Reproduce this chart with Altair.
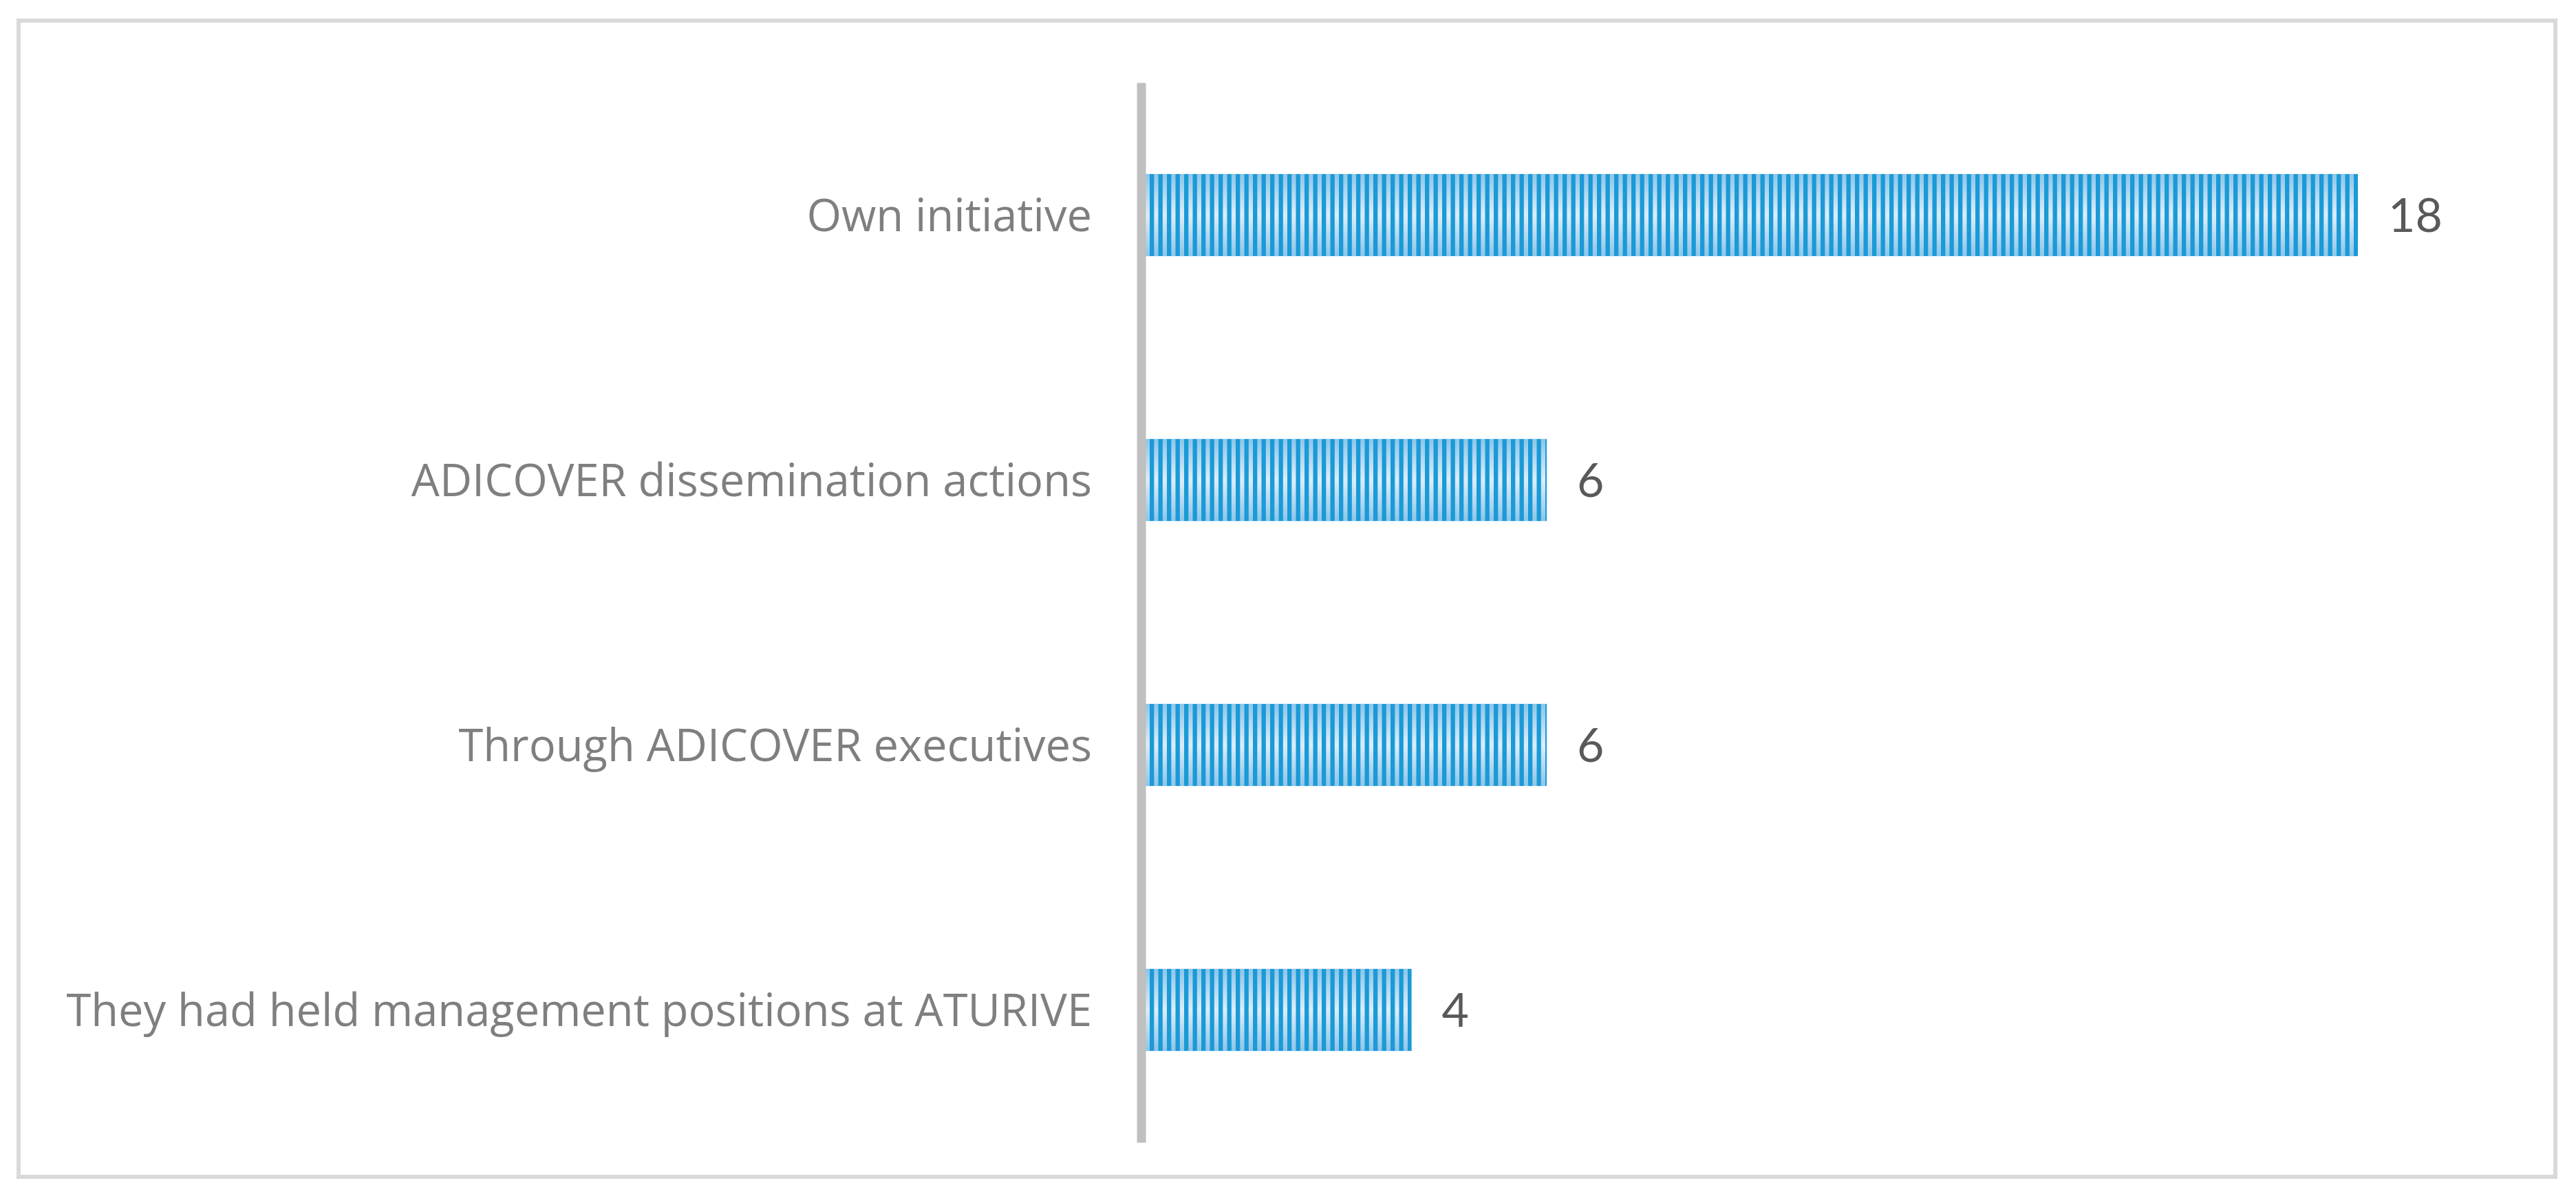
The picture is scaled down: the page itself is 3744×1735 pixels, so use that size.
import altair as alt
import pandas as pd

categories = [
    "Own initiative",
    "ADICOVER dissemination actions",
    "Through ADICOVER executives",
    "They had held management positions at ATURIVE",
]
values = [18, 6, 6, 4]

df = pd.DataFrame({"category": categories, "value": values})

x_scale = alt.Scale(domain=[0, 20], range=[1631.5, 3596.5], nice=False, zero=True)
y_scale = alt.Scale(domain=categories, range=[90, 1630], paddingInner=0.69, paddingOuter=0.345)

base = alt.Chart(df)

y_enc = alt.Y(
    "category:N",
    sort=categories,
    scale=y_scale,
    axis=alt.Axis(
        title=None,
        offset=-1631.5,
        domainColor="#bfbfbf",
        domainWidth=13,
        ticks=False,
        tickSize=0,
        grid=False,
        labelFont="Open Sans",
        labelFontSize=65,
        labelColor="#7f7f7f",
        labelPadding=72,
        labelOffset=3,
        labelLimit=3000,
        zindex=1,
    ),
)

under = base.mark_bar(
    color=alt.Gradient(
        gradient="linear",
        x1=0, y1=0, x2=0, y2=1,
        stops=[
            alt.GradientStop(color="#8cc5ea", offset=0),
            alt.GradientStop(color="#dcedf9", offset=0.5),
            alt.GradientStop(color="#8cc5ea", offset=1),
        ],
    )
).encode(
    x=alt.X("value:Q", scale=x_scale, axis=None),
    y=y_enc,
)

stripes = base.mark_rule(
    color="#1a9ad6", strokeWidth=119, strokeDash=[6.3, 6.2], strokeCap="butt"
).encode(
    x=alt.X("x0:Q", scale=x_scale, axis=None),
    x2="value:Q",
    y=alt.Y("category:N", sort=categories, scale=y_scale),
).transform_calculate(x0="0")

labels = base.mark_text(
    align="left", baseline="middle", dx=44, dy=4, font="Lato", fontSize=68, color="#595959"
).encode(
    x=alt.X("value:Q", scale=x_scale, axis=None),
    y=alt.Y("category:N", sort=categories, scale=y_scale),
    text="value:Q",
)

chart = (
    alt.layer(under, stripes, labels)
    .properties(
        width=3687,
        height=1680,
        padding={"left": 19, "top": 22, "right": 20, "bottom": 20},
        autosize=alt.AutoSizeParams(type="none"),
        background="white",
    )
    .configure_view(stroke="#d9d9d9", strokeWidth=6, fill="white")
)

chart.save("out.html", embed_options={"renderer": "svg", "actions": False})
